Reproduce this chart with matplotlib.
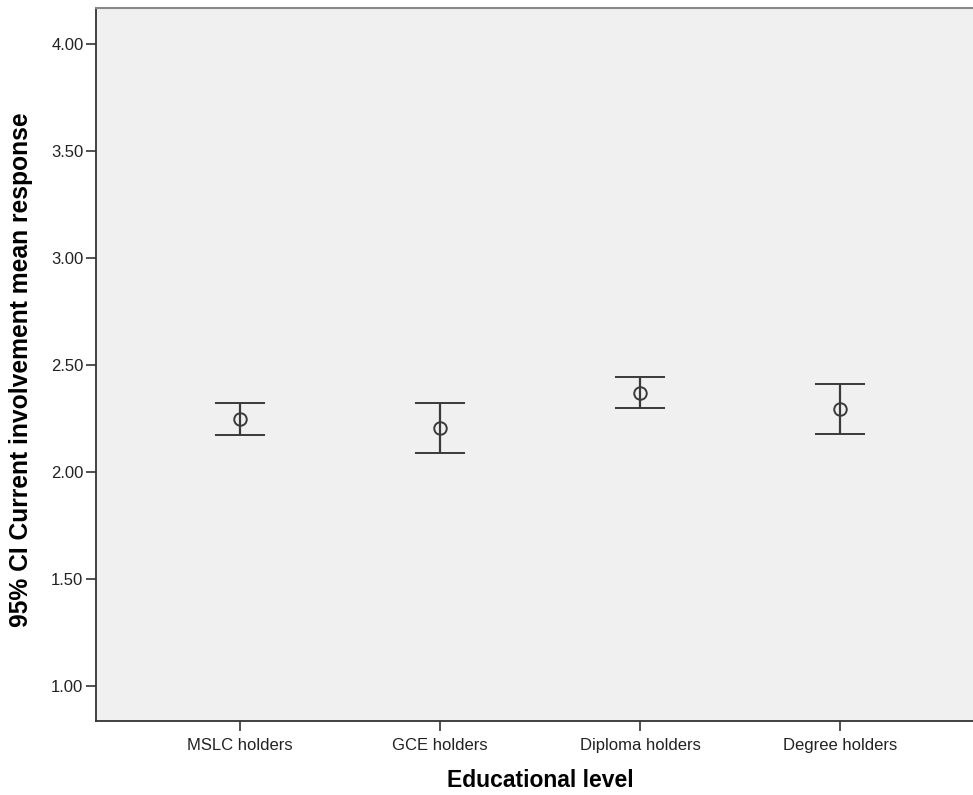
import matplotlib
matplotlib.use("Agg")
import matplotlib.pyplot as plt

categories = ["MSLC holders", "GCE holders", "Diploma holders", "Degree holders"]
means = [2.248, 2.205, 2.369, 2.294]
upper = [2.322, 2.322, 2.441, 2.411]
lower = [2.174, 2.089, 2.300, 2.177]
yticks = [1.00, 1.50, 2.00, 2.50, 3.00, 3.50, 4.00]

plt.rcParams['font.family'] = ['Liberation Sans', 'DejaVu Sans']

fig = plt.figure(figsize=(9.73, 7.95), dpi=100)
W, H = 973, 795
ax = fig.add_axes([96 / W, 1 - 721 / H, (973 - 96) / W, (721 - 8) / H])
ax.set_facecolor('#f0f0f0')

x = list(range(len(categories)))
yerr = [[m - l for m, l in zip(means, lower)], [u - m for m, u in zip(means, upper)]]
col = '#3a3a3a'
ax.errorbar(x, means, yerr=yerr, fmt='o', mfc='none', mec=col, mew=1.4, ms=9,
            ecolor=col, elinewidth=1.6, capsize=18, capthick=1.6, color=col, zorder=3)

ax.set_xlim(-0.72, 3.665)
ax.set_ylim(0.835, 4.168)
ax.set_yticks(yticks)
ax.set_yticklabels([f"{v:.2f}" for v in yticks])
ax.set_xticks(x)
ax.set_xticklabels(categories)
ax.tick_params(axis='both', direction='out', length=7, width=1.2, color='#333333',
               labelsize=12, labelcolor='#222222')
ax.tick_params(axis='y', pad=2)
ax.tick_params(axis='x', pad=5)

for s in ['left', 'bottom']:
    ax.spines[s].set_color('#333333')
    ax.spines[s].set_linewidth(1.3)
ax.spines['top'].set_color('#888888')
ax.spines['top'].set_linewidth(1.5)
ax.spines['right'].set_visible(False)

ax.set_ylabel("95% CI Current involvement mean response", fontsize=17.7, fontweight='bold')
ax.set_xlabel("Educational level", fontsize=16.5, fontweight='bold')
ax.yaxis.set_label_coords((33 - 96) / 877, (721 - 370) / 713)
ax.xaxis.set_label_coords((540 - 96) / 877, (721 - 769) / 713)

fig.savefig("out.png", dpi=100)
